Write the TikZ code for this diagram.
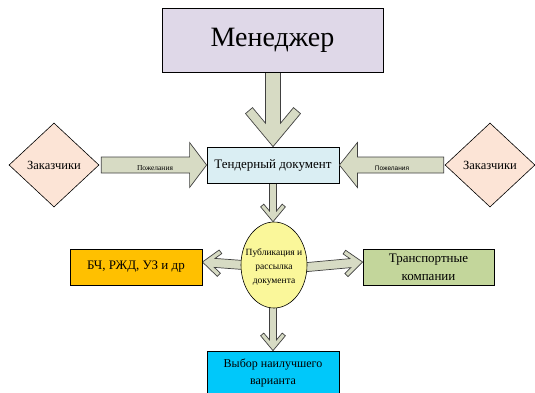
\documentclass[tikz,border=0pt]{standalone}
\usepackage{fontspec}
\setmainfont{Liberation Serif}
\newfontfamily\sansf{Liberation Sans}
\usetikzlibrary{shapes.geometric,calc,backgrounds}
\definecolor{mgrc}{RGB}{223,216,232}
\definecolor{tdc}{RGB}{218,238,243}
\definecolor{diac}{RGB}{252,228,214}
\definecolor{yelc}{RGB}{250,247,154}
\definecolor{orc}{RGB}{255,192,0}
\definecolor{grc}{RGB}{195,214,155}
\definecolor{cyc}{RGB}{0,200,250}
\definecolor{arrc}{RGB}{215,219,196}
\newcommand\chevarrow[5]{%
  \begin{scope}[shift={(#1)}, rotate=#2]
    \pgfmathsetmacro\cs{#4}\pgfmathsetmacro\cw{#5}%
    \pgfmathsetmacro\cu{-39*\cs+(20.5*\cs-\cw)*1.2}%
    \filldraw[arr] (0,0) -- ({-33*\cs},{27.5*\cs}) -- ({-39*\cs},{20.5*\cs}) -- (\cu,\cw)
      -- (-#3,\cw) -- (-#3,-\cw) -- (\cu,-\cw) -- ({-39*\cs},{-20.5*\cs})
      -- ({-33*\cs},{-27.5*\cs}) -- cycle;
  \end{scope}}
\begin{document}
\begin{tikzpicture}[x=1pt,y=-1pt,
  box/.style={draw=black, line width=0.8pt, inner sep=0pt, align=center},
  dia/.style={diamond, draw=black, line width=0.6pt, fill=diac, minimum width=90pt,
    minimum height=84pt, inner sep=0pt, font=\fontsize{12.5}{15}\selectfont},
  arr/.style={draw=black!75, fill=arrc, line width=0.7pt, line join=miter}]
\useasboundingbox (0,0) rectangle (535,392);
% nodes
\node[box, fill=mgrc, minimum width=221pt, minimum height=64pt,
  font=\fontsize{28}{32}\selectfont] (mgr) at (272.5,40) {Менеджер};
\node[box, fill=tdc, minimum width=132pt, minimum height=36pt,
  font=\fontsize{13}{15}\selectfont] (td) at (273,165) {Тендерный документ};
\node[dia] (zl) at (54,165) {Заказчики};
\node[dia] (zr) at (490,165) {Заказчики};
\node[ellipse, draw=black, line width=0.6pt, fill=yelc, minimum width=66pt,
  minimum height=86pt, inner sep=0pt] (pub) at (274,265) {};
\node[align=center, inner sep=0pt, font=\fontsize{9.5}{14}\selectfont]
  (pubt) at (274,267) {Публикация и\\рассылка\\документа};
\node[box, fill=orc, minimum width=132pt, minimum height=36pt,
  font=\fontsize{13}{15}\selectfont] (ob) at (136,267) {БЧ, РЖД, УЗ и др};
\node[box, fill=grc, minimum width=131pt, minimum height=36pt,
  font=\fontsize{13}{18}\selectfont] (gb) at (428.5,267) {Транспортные\\компании};
\node[box, fill=cyc, minimum width=132pt, minimum height=43pt,
  font=\fontsize{12}{17}\selectfont] (bb) at (273,372.5) {Выбор наилучшего\\варианта};
% arrows
\begin{scope}[on background layer]
  \chevarrow{td.north}{-90}{75}{1}{7.5}
  \chevarrow{td.north |- pub.north}{-90}{40}{0.45}{3.5}
  \chevarrow{bb.north}{-90}{44}{0.45}{3.5}
  \chevarrow{$(ob.east)+(0,-5)$}{175.8}{44}{0.48}{4.5}
  \chevarrow{$(gb.west)+(0,-5)$}{5.2}{58}{0.48}{4.5}
\end{scope}
\filldraw[arr] ($(zl.east)+(2,-8)$) -- ($(td.west)+(-17,-8)$) -- ($(td.west)+(-17,-22.5)$)
  -- (td.west) -- ($(td.west)+(-17,22.5)$) -- ($(td.west)+(-17,8)$)
  -- ($(zl.east)+(2,8)$) -- cycle;
\filldraw[arr] ($(zr.west)+(-1,-8)$) -- ($(td.east)+(18,-8)$) -- ($(td.east)+(18,-22.5)$)
  -- (td.east) -- ($(td.east)+(18,22.5)$) -- ($(td.east)+(18,8)$)
  -- ($(zr.west)+(-1,8)$) -- cycle;
\node[font=\fontsize{7.5}{9}\selectfont, inner sep=0pt] (pl) at (155,168) {Пожелания};
\node[font=\sansf\fontsize{6.5}{8}\selectfont, inner sep=0pt] (pr) at (392,168) {Пожелания};
\end{tikzpicture}
\end{document}
